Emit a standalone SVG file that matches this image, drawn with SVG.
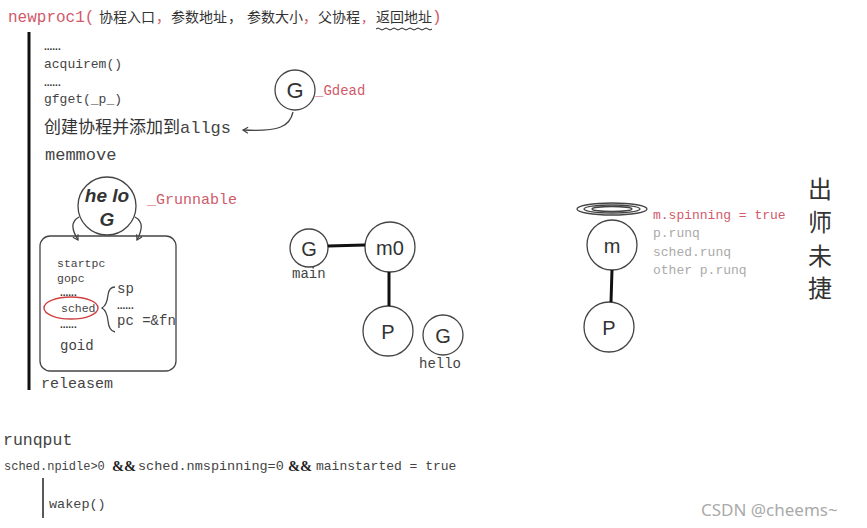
<svg xmlns="http://www.w3.org/2000/svg" width="867" height="528" viewBox="0 0 867 528">
<defs>
<style>
.m{font-family:"Liberation Mono","DejaVu Sans Mono",monospace;fill:#444}
.cn{font-family:"Noto Sans CJK SC","Noto Sans",sans-serif;fill:#333}
.red{fill:#d05a6a}
.lg{fill:#aaa}
.dots{font-family:"Liberation Sans",sans-serif;font-weight:bold;font-size:10px;fill:#333}
.c{fill:#fff;stroke:#444;stroke-width:1.3}
.ln{stroke:#111;stroke-width:3;fill:none}
.thin{stroke:#444;stroke-width:1.3;fill:none}
.lbl{font-family:"Liberation Sans",sans-serif;fill:#333;text-anchor:middle}
.amp{font-family:"Liberation Serif",serif;font-weight:bold;font-size:14.5px;fill:#222}
</style>
<marker id="ah" markerWidth="8" markerHeight="8" refX="6" refY="4" orient="auto" markerUnits="userSpaceOnUse">
<path d="M1,1 L6,4 L1,7" fill="none" stroke="#444" stroke-width="1.2"/>
</marker>
</defs>
<rect width="867" height="528" fill="#fff"/>

<g id="title">
<text x="8" y="22" class="m red" font-size="16">newproc1(</text>
<text x="99" y="22" class="cn" font-size="14">协程入口</text>
<text x="156" y="22" class="cn red" font-size="14">，</text>
<text x="171" y="22" class="cn" font-size="14">参数地址</text>
<text x="228" y="22" class="cn" font-size="14">，</text>
<text x="247" y="22" class="cn" font-size="14">参数大小</text>
<text x="303" y="22" class="cn red" font-size="14">，</text>
<text x="318" y="22" class="cn" font-size="14">父协程</text>
<text x="361" y="22" class="cn red" font-size="13">，</text>
<text x="376" y="22" class="cn" font-size="14">返回地址</text>
<text x="432" y="22" class="m red" font-size="16">)</text>
<path d="M376,29 q2,-2 4,0 t4,0 t4,0 t4,0 t4,0 t4,0 t4,0 t4,0 t4,0 t4,0 t4,0 t4,0 t4,0 t4,0" fill="none" stroke="#222" stroke-width="1"/>
</g>

<g id="main-bar">
<line x1="29" y1="32" x2="29" y2="390" stroke="#111" stroke-width="3"/>
<text x="44" y="50" class="dots">......</text>
<text x="44" y="68" class="m" font-size="13">acquirem()</text>
<text x="44" y="86" class="dots">......</text>
<text x="44" y="103" class="m" font-size="13">gfget(_p_)</text>
<text x="44" y="133" class="cn" font-size="17" fill="#222">创建协程并添加到<tspan class="m" font-size="17" fill="#333">allgs</tspan></text>
<text x="45" y="160" class="m" font-size="17">memmove</text>
<text x="41" y="388" class="m" font-size="15">releasem</text>
</g>

<g id="gdead">
<circle cx="295" cy="90" r="20" class="c"/>
<text x="295" y="98" class="lbl" font-size="22">G</text>
<text x="315" y="95" class="m red" font-size="14">_Gdead</text>
</g>

<g id="hello-g">
<circle cx="107" cy="206" r="29" class="c"/>
<text x="107" y="202" class="lbl" font-size="19" font-style="italic" font-weight="bold">he lo</text>
<text x="107" y="226" class="lbl" font-size="19" font-style="italic" font-weight="bold">G</text>
<text x="147" y="204" class="m red" font-size="15">_Grunnable</text>
</g>

<g id="gstruct">
<rect x="40" y="236" width="136" height="135" rx="10" class="thin"/>
<text x="57" y="267" class="m" font-size="11.5">startpc</text>
<text x="57" y="282" class="m" font-size="11.5">gopc</text>
<text x="60" y="296" class="dots">......</text>
<text x="61" y="312" class="m" font-size="11.5">sched</text>
<ellipse cx="71" cy="308" rx="27" ry="11" fill="none" stroke="#d04040" stroke-width="1.4"/>
<text x="60" y="328" class="dots">......</text>
<text x="60" y="350" class="m" font-size="14">goid</text>
<path d="M115,287 q-6,0 -7,8 q-1,10 -6,13 q5,3 6,13 q1,10 7,11" class="thin"/>
<text x="117" y="293" class="m" font-size="14">sp</text>
<text x="117" y="309" class="dots">......</text>
<text x="117" y="325" class="m" font-size="14">pc =&amp;fn</text>
</g>

<g id="g-main">
<circle cx="309" cy="248" r="19" class="c"/>
<text x="309" y="256" class="lbl" font-size="20">G</text>
<text x="292" y="278" class="m" font-size="14">main</text>
</g>
<g id="m0">
<circle cx="390" cy="247" r="25" class="c"/>
<text x="390" y="255" class="lbl" font-size="20">m0</text>
</g>
<g id="p-mid">
<circle cx="388" cy="331" r="25" class="c"/>
<text x="388" y="339" class="lbl" font-size="20">P</text>
</g>
<g id="g-hello">
<circle cx="443" cy="335" r="20" class="c"/>
<text x="443" y="343" class="lbl" font-size="20">G</text>
<text x="419" y="368" class="m" font-size="14">hello</text>
</g>

<g id="m-right">
<ellipse cx="612" cy="209" rx="35" ry="6" class="thin"/>
<ellipse cx="612" cy="209" rx="28" ry="4" class="thin"/>
<ellipse cx="612" cy="209" rx="20" ry="2.5" class="thin"/>
<circle cx="612" cy="245" r="25" class="c"/>
<text x="612" y="253" class="lbl" font-size="20">m</text>
<text x="653" y="219" class="m red" font-size="13">m.spinning = true</text>
<text x="653" y="237" class="m lg" font-size="13">p.runq</text>
<text x="653" y="256" class="m lg" font-size="13">sched.runq</text>
<text x="653" y="274" class="m lg" font-size="13">other p.runq</text>
</g>
<g id="p-right">
<circle cx="609" cy="327" r="25" class="c"/>
<text x="609" y="335" class="lbl" font-size="20">P</text>
</g>

<g id="motto">
<text x="820" y="198" class="cn" font-size="24" text-anchor="middle" fill="#111">出</text>
<text x="820" y="231" class="cn" font-size="24" text-anchor="middle" fill="#111">师</text>
<text x="820" y="265" class="cn" font-size="24" text-anchor="middle" fill="#111">未</text>
<text x="820" y="297" class="cn" font-size="24" text-anchor="middle" fill="#111">捷</text>
</g>

<g id="runqput">
<text x="3" y="445" class="m" font-size="16.5">runqput</text>
<text x="4" y="470" class="m" font-size="12">sched.npidle&gt;0</text>
<text x="112" y="471" class="amp">&amp;&amp;</text>
<text x="138" y="470" class="m" font-size="13.5">sched.nmspinning=0</text>
<text x="288" y="471" class="amp">&amp;&amp;</text>
<text x="316" y="470" class="m" font-size="13">mainstarted = true</text>
<line x1="43" y1="478" x2="43" y2="518" stroke="#222" stroke-width="1.5"/>
<text x="49" y="508" class="m" font-size="13.5">wakep()</text>
</g>

<g id="watermark">
<text x="701" y="516" font-family="'Noto Sans','Open Sans',sans-serif" font-size="17" fill="#aaa">CSDN @cheems~</text>
</g>

<g id="connectors">
<path d="M293,112 C290,126 280,132 243,130" class="thin" marker-end="url(#ah)"/>
<path d="M79,217 C70,222 72,230 78,240" class="thin" marker-end="url(#ah)"/>
<path d="M135,217 C144,222 142,230 137,240" class="thin" marker-end="url(#ah)"/>
<line x1="328" y1="246" x2="365" y2="245" class="ln"/>
<line x1="389" y1="272" x2="389" y2="306" class="ln"/>
<line x1="612" y1="270" x2="611" y2="302" class="ln"/>
</g>
</svg>
